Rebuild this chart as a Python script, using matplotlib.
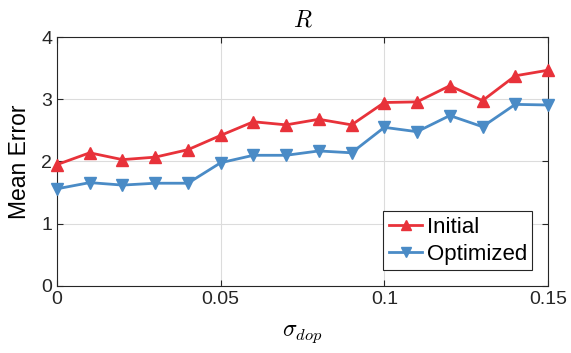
import numpy as np
import matplotlib
matplotlib.use('Agg')
from matplotlib import pyplot as plt

plt.rcParams['font.family'] = ['Liberation Sans', 'DejaVu Sans']
plt.rcParams['mathtext.fontset'] = 'cm'

sigma_dop = [0.00, 0.01, 0.02, 0.03, 0.04, 0.05, 0.06, 0.07,
             0.08, 0.09, 0.10, 0.11, 0.12, 0.13, 0.14, 0.15]
initial = [1.95, 2.14, 2.03, 2.07, 2.19, 2.42, 2.64, 2.59,
           2.68, 2.59, 2.95, 2.96, 3.22, 2.98, 3.38, 3.47]
optimized = [1.56, 1.66, 1.62, 1.65, 1.65, 1.98, 2.10, 2.10,
             2.17, 2.14, 2.55, 2.48, 2.74, 2.56, 2.92, 2.91]

red = '#e8323a'
blue = '#4a8bc6'

fig = plt.figure(figsize=(5.71, 3.53), dpi=100)
ax = fig.add_axes([0.0998, 0.1907, 0.8599, 0.7036])

ax.plot(sigma_dop, initial, color=red, lw=2.0, marker='^', ms=9,
        mfc=red, mec=red, label='Initial', clip_on=False, zorder=3)
ax.plot(sigma_dop, optimized, color=blue, lw=2.0, marker='v', ms=9,
        mfc=blue, mec=blue, label='Optimized', clip_on=False, zorder=3)

ax.set_xlim(0, 0.15)
ax.set_ylim(0, 4)
ax.set_xticks([0, 0.05, 0.1, 0.15])
ax.set_xticklabels(['0', '0.05', '0.1', '0.15'])
ax.set_yticks([0, 1, 2, 3, 4])
ax.grid(True, color='#dcdcdc', lw=0.8)
ax.set_axisbelow(True)
ax.tick_params(direction='in', length=4, width=0.8, labelsize=14,
               top=True, right=True, colors='#262626', labelcolor='#262626')
for s in ax.spines.values():
    s.set_color('#262626')
    s.set_linewidth(0.8)

ax.set_title('$R$', fontsize=17, pad=8)
ax.set_xlabel(r'$\sigma_{dop}$', fontsize=17, labelpad=11)
ax.set_ylabel('Mean Error', fontsize=16.5, labelpad=7)

leg = ax.legend(loc='lower right', fontsize=16, fancybox=False, framealpha=1,
                edgecolor='#262626', handlelength=1.5, handletextpad=0.2,
                borderpad=0.25, labelspacing=0.25, borderaxespad=0.7,
                markerscale=0.85)
leg.get_frame().set_linewidth(0.8)

fig.savefig('out.png', dpi=100)
